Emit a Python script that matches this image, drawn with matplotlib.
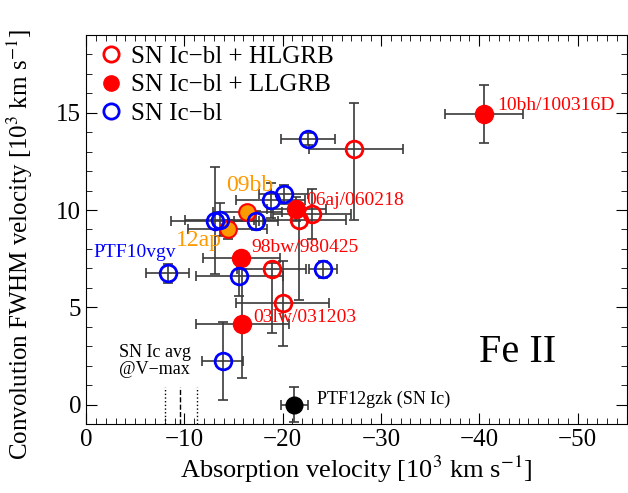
import numpy as np
import matplotlib
matplotlib.use('Agg')
import matplotlib.pyplot as plt
from matplotlib.lines import Line2D

plt.rcParams['font.family'] = ['Liberation Serif', 'DejaVu Serif']
plt.rcParams['mathtext.fontset'] = 'stix'

# SN Ic-bl + HLGRB (open red)
hl_x = [-27.3, -23.0, -21.7, -18.9, -20.0]
hl_y = [13.15, 9.8, 9.5, 6.98, 5.2]
hl_xlo = [4.9, 4.0, 4.7, 3.5, 4.75]
hl_xhi = [4.6, 4.0, 3.7, 3.5, 4.75]
hl_ylo = [3.65, 1.3, 4.15, 3.3, 2.2]
hl_yhi = [2.35, 1.3, 0.5, 0.3, 2.2]

# relativistic SNe without GRB (orange)
rel_x = [-16.4, -14.4]
rel_y = [9.9, 9.0]
rel_xerr = [3.5, 4.0]
rel_yerr = [0.3, 0.5]

# SN Ic-bl + LLGRB (filled red)
ll_x = [-40.5, -21.4, -15.8, -15.9]
ll_y = [14.95, 10.05, 7.55, 4.15]
ll_xerr = [3.95, 3.0, 3.9, 4.7]
ll_yerr = [1.5, 0.6, 0.3, 2.8]

# SN Ic-bl (open blue)
bl_x = [-22.6, -20.1, -18.8, -17.3, -13.1, -13.6, -8.3, -15.6, -24.1, -13.9]
bl_y = [13.65, 10.8, 10.5, 9.45, 9.45, 9.5, 6.75, 6.6, 6.95, 2.25]
bl_xerr = [2.75, 2.5, 3.5, 2.2, 4.5, 3.5, 2.2, 4.45, 1.45, 2.1]
bl_yerr = [0.3, 0.5, 0.9, 0.5, 2.75, 0.85, 0.5, 1.0, 0.45, 2.0]

# PTF12gzk (SN Ic)
gzk_x, gzk_y, gzk_xerr, gzk_yerr = -21.2, 0.0, 1.35, 0.9

# SN Ic average at V-max: mean and spread
icavg_mean, icavg_lo, icavg_hi = -9.6, -8.0, -11.3

red = '#FF0000'
blue = '#0000FF'
orange = '#FF9900'
ecol = '#3a3a3a'

fig = plt.figure(figsize=(6.28, 4.93), dpi=100)
ax = fig.add_axes([0.137, 0.14, 0.861, 0.789])

eb = dict(fmt='none', ecolor=ecol, elinewidth=1.2, capsize=3.5, capthick=1.2, zorder=2)
ax.errorbar(hl_x, hl_y, xerr=[hl_xlo, hl_xhi], yerr=[hl_ylo, hl_yhi], **eb)
ax.errorbar(rel_x, rel_y, xerr=rel_xerr, yerr=rel_yerr, **eb)
ax.errorbar(ll_x, ll_y, xerr=ll_xerr, yerr=ll_yerr, **eb)
ax.errorbar(bl_x, bl_y, xerr=bl_xerr, yerr=bl_yerr, **eb)
ax.errorbar([gzk_x], [gzk_y], xerr=gzk_xerr, yerr=gzk_yerr, **eb)

ms = 12
ax.plot(hl_x, hl_y, 'o', ms=ms, mfc='none', mec=red, mew=2, zorder=3)
ax.plot(rel_x, rel_y, 'o', ms=ms, mfc=orange, mec=red, mew=1.5, zorder=3)
ax.plot(ll_x, ll_y, 'o', ms=ms + 1, mfc=red, mec=red, zorder=3)
ax.plot(bl_x, bl_y, 'o', ms=ms, mfc='none', mec=blue, mew=2, zorder=3)
ax.plot([gzk_x], [gzk_y], 'o', ms=ms, mfc='k', mec='k', zorder=3)

ax.plot([icavg_lo, icavg_lo], [-1, 0.9], ':', color='k', lw=1)
ax.plot([icavg_mean, icavg_mean], [-1, 0.9], '--', color='k', lw=1)
ax.plot([icavg_hi, icavg_hi], [-1, 0.9], ':', color='k', lw=1)

fs = 14
ax.text(-41.8, 15.35, '10bh/100316D', color=red, fontsize=fs, va='center')
ax.text(-22.35, 10.5, '06aj/060218', color=red, fontsize=fs, va='center')
ax.text(-16.85, 8.05, '98bw/980425', color=red, fontsize=fs, va='center')
ax.text(-17.05, 4.5, '03lw/031203', color=red, fontsize=fs, va='center')
ax.text(-14.2, 11.25, '09bb', color=orange, fontsize=17, va='center')
ax.text(-13.8, 8.45, '12ap', color=orange, fontsize=17, va='center', ha='right')
ax.text(-0.75, 7.8, 'PTF10vgv', color=blue, fontsize=fs, va='center')
ax.text(-7.0, 2.25, 'SN Ic avg\n@V\u2212max', color='k', fontsize=13,
        va='center', ha='center', linespacing=1.0)
ax.text(-23.45, 0.25, 'PTF12gzk (SN Ic)', color='k', fontsize=13, va='center')
ax.text(-43.9, 2.65, 'Fe II', color='k', fontsize=29, va='center', ha='center')

handles = [
    Line2D([], [], ls='none', marker='o', ms=11, mfc='none', mec=red, mew=2),
    Line2D([], [], ls='none', marker='o', ms=11, mfc=red, mec=red),
    Line2D([], [], ls='none', marker='o', ms=11, mfc='none', mec=blue, mew=2),
]
labels = ['SN Ic\u2212bl + HLGRB', 'SN Ic\u2212bl + LLGRB', 'SN Ic\u2212bl']
ax.legend(handles, labels, loc='upper left', frameon=False, fontsize=18,
          handletextpad=0.2, borderaxespad=0.1, labelspacing=0.25,
          handlelength=1.2, borderpad=0.3)

ax.set_xlim(0, -55)
ax.set_ylim(-1, 19)
ax.set_xticks([0, -10, -20, -30, -40, -50])
ax.set_yticks([0, 5, 10, 15])
ax.set_xticks(np.arange(0, -55, -1), minor=True)
ax.set_yticks(np.arange(-1, 19, 1), minor=True)
ax.tick_params(which='both', direction='in', top=True, right=True, labelsize=18)
ax.tick_params(which='major', length=8)
ax.tick_params(which='minor', length=4)

ax.set_xlabel('Absorption velocity [10$^3$ km s$^{-1}$]', fontsize=19, labelpad=2)
ax.set_ylabel('Convolution FWHM velocity [10$^3$ km s$^{-1}$]', fontsize=18)
ax.yaxis.set_label_coords(-0.094, 0.46)

fig.savefig('out.png', dpi=100)
